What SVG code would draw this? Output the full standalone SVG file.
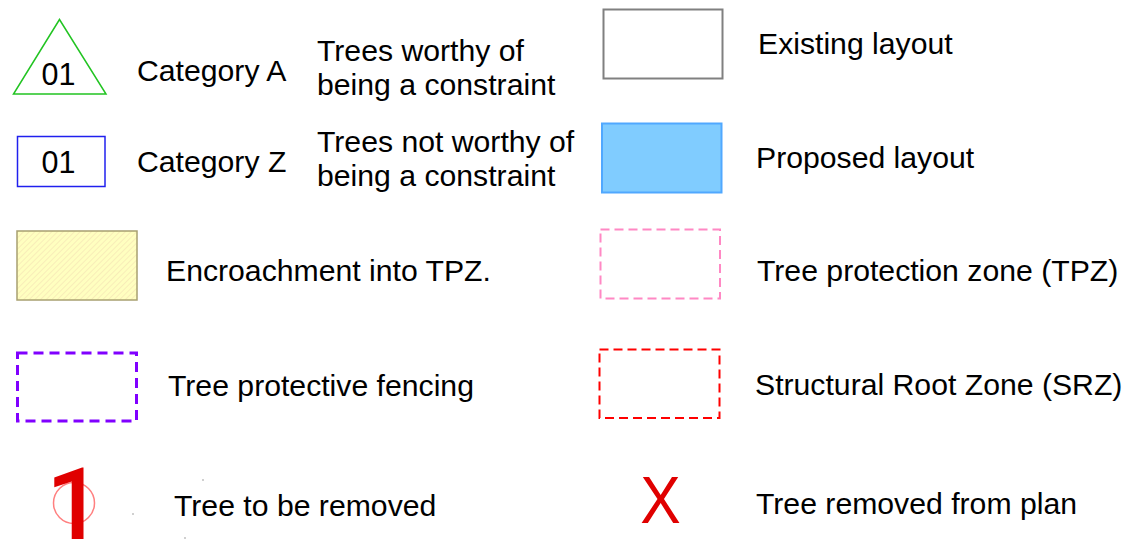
<svg xmlns="http://www.w3.org/2000/svg" width="1134" height="540" viewBox="0 0 1134 540">
<style>
.t{font-family:"Liberation Sans",Arial,sans-serif;font-size:30.2px;fill:#000}
.n{font-family:"Liberation Sans",Arial,sans-serif;font-size:30.5px;fill:#000;text-anchor:middle}
.big{font-family:"Liberation Sans",Arial,sans-serif;fill:#e00000}
.one{font-family:Roboto,"Liberation Sans",sans-serif;fill:#e00000;font-weight:500}
.dash{fill:none;stroke-width:2;stroke-dasharray:9 5}
</style>
<defs>
<pattern id="hatch" patternUnits="userSpaceOnUse" width="4" height="4" patternTransform="rotate(45)">
<rect width="4" height="4" fill="#ffffc0"/>
<line x1="0" y1="0" x2="0" y2="4" stroke="#f2dcb0" stroke-width="1"/>
</pattern>
</defs>
<rect width="1134" height="540" fill="#fff"/>
<g id="cat-a">
<polygon points="59.5,19.5 13.5,94 106,94" fill="none" stroke="#22c422" stroke-width="1.5"/>
<text class="n" x="58.5" y="85">01</text>
<text class="t" x="137" y="81">Category A</text>
<text class="t" x="317" y="61">Trees worthy of</text>
<text class="t" x="317" y="95">being a constraint</text>
</g>
<g id="cat-z">
<rect x="17.5" y="136.5" width="87.5" height="50" fill="none" stroke="#2020ee" stroke-width="1.5"/>
<text class="n" x="58.5" y="173">01</text>
<text class="t" x="137" y="172">Category Z</text>
<text class="t" x="317" y="152">Trees not worthy of</text>
<text class="t" x="317" y="186">being a constraint</text>
</g>
<g id="encroachment">
<rect x="17" y="231" width="120" height="69" fill="url(#hatch)" stroke="#a8a070" stroke-width="1.5"/>
<text class="t" x="166" y="281">Encroachment into TPZ.</text>
</g>
<g id="fencing">
<rect x="17.5" y="353" width="119" height="68" fill="none" stroke="#8000ff" stroke-width="3" stroke-dasharray="10 6"/>
<text class="t" x="168" y="396">Tree protective fencing</text>
</g>
<g id="remove">
<circle cx="74" cy="503" r="20.5" fill="none" stroke="#ff8080" stroke-width="1.5"/>
<text class="one" x="46" y="539" font-size="100">1</text>
<rect x="202.5" y="479.5" width="1" height="1" fill="#444"/>
<rect x="132.5" y="513.5" width="1" height="1" fill="#444"/>
<rect x="184.5" y="537.5" width="1" height="1" fill="#444"/>
<text class="t" x="174" y="516">Tree to be removed</text>
</g>
<g id="existing">
<rect x="603.5" y="9.5" width="119" height="69" fill="none" stroke="#808080" stroke-width="2"/>
<text class="t" x="758" y="54">Existing layout</text>
</g>
<g id="proposed">
<rect x="602" y="123.5" width="119.5" height="69" fill="#80ccff" stroke="#50a8ff" stroke-width="2"/>
<text class="t" x="756" y="168">Proposed layout</text>
</g>
<g id="tpz">
<rect x="600.5" y="229.5" width="119.5" height="69" class="dash" stroke="#ff88c4"/>
<text class="t" x="757" y="281">Tree protection zone (TPZ)</text>
</g>
<g id="srz">
<rect x="599.5" y="349.5" width="120" height="68.5" class="dash" stroke="#ff0000"/>
<text class="t" x="755" y="395">Structural Root Zone (SRZ)</text>
</g>
<g id="removed-plan">
<text class="big" x="0" y="0" transform="translate(660.5,522.5) scale(0.92,1)" text-anchor="middle" font-size="66">X</text>
<text class="t" x="756" y="514">Tree removed from plan</text>
</g>
<g id="connectors"/>
</svg>
